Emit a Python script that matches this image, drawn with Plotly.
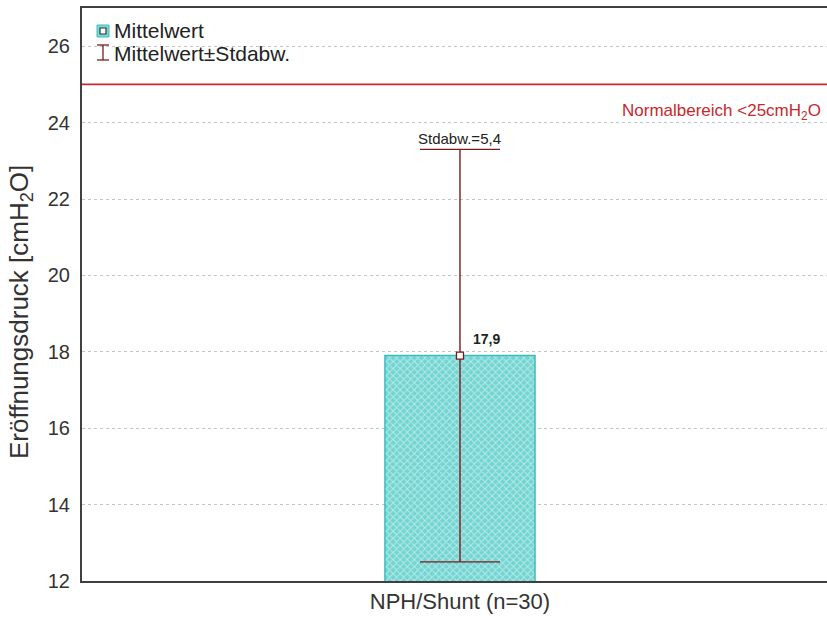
import plotly.graph_objects as go

# Data
categories = ["NPH/Shunt (n=30)"]
means = [17.9]
std_devs = [5.4]
normal_limit = 25
y_ticks = [12, 14, 16, 18, 20, 22, 24, 26]

W, H = 827, 619
ML, MR, MT, MB = 82, 0, 8, 38
PW, PH = W - ML - MR, H - MT - MB

def px_x(p):
    return (p - ML) / PW

def px_y(p):
    return (H - MB - p) / PH

RED = "#c8282d"
DARKRED = "#7a1c1c"
CYAN_LINE = "#3cbcbc"
FONT = "Liberation Sans, Arial, sans-serif"

fig = go.Figure()

fig.add_trace(go.Bar(
    x=categories, y=means, width=0.397,
    base=0,
    marker=dict(
        color="#8fe0dc",
        line=dict(color=CYAN_LINE, width=1.5),
        pattern=dict(shape="x", fgcolor="#ffffff", bgcolor="#72d5d2",
                     size=5, solidity=0.35),
    ),
    showlegend=False,
))

fig.add_trace(go.Scatter(
    x=categories, y=means, mode="markers",
    marker=dict(symbol="square", size=7, color="white",
                line=dict(color=DARKRED, width=1.3)),
    error_y=dict(type="data", array=std_devs, visible=True,
                 color=DARKRED, thickness=1.4, width=40),
    showlegend=False,
))

# mean value label and SD label
fig.add_annotation(x=categories[0], y=means[0],
                   text="<b>%s</b>" % f"{means[0]:.1f}".replace(".", ","),
                   showarrow=False, xshift=27, yshift=17,
                   font=dict(size=14, color="#222", family=FONT))
fig.add_annotation(x=categories[0], y=means[0] + std_devs[0],
                   text="Stdabw.=" + f"{std_devs[0]:.1f}".replace(".", ","),
                   showarrow=False, yshift=11,
                   font=dict(size=15, color="#222", family=FONT))

# normal range line
fig.add_shape(type="line", xref="paper", yref="y", x0=0, x1=1,
              y0=normal_limit, y1=normal_limit,
              line=dict(color=RED, width=1.6))
fig.add_annotation(xref="paper", yref="y", x=px_x(823), y=normal_limit,
                   xanchor="right", yanchor="top", yshift=-15,
                   text="Normalbereich &lt;25cmH<sub>2</sub>O", showarrow=False,
                   font=dict(size=17, color=RED, family=FONT))

# legend
fig.add_shape(type="rect", xref="paper", yref="paper",
              x0=px_x(97), x1=px_x(109), y0=px_y(37), y1=px_y(25),
              fillcolor="#7fd8d6", line=dict(color=CYAN_LINE, width=1))
fig.add_shape(type="rect", xref="paper", yref="paper",
              x0=px_x(100), x1=px_x(106), y0=px_y(34), y1=px_y(28),
              fillcolor="white", line=dict(color="#333", width=1.2))
fig.add_shape(type="line", xref="paper", yref="paper",
              x0=px_x(103), x1=px_x(103), y0=px_y(60), y1=px_y(45),
              line=dict(color=DARKRED, width=1.3))
fig.add_shape(type="line", xref="paper", yref="paper",
              x0=px_x(97), x1=px_x(109), y0=px_y(45), y1=px_y(45),
              line=dict(color=DARKRED, width=1.3))
fig.add_shape(type="line", xref="paper", yref="paper",
              x0=px_x(97), x1=px_x(109), y0=px_y(60), y1=px_y(60),
              line=dict(color=DARKRED, width=1.3))
fig.add_annotation(xref="paper", yref="paper", x=px_x(112), y=px_y(31),
                   xanchor="left", yanchor="middle", text="Mittelwert",
                   showarrow=False, font=dict(size=21, color="#222", family=FONT))
fig.add_annotation(xref="paper", yref="paper", x=px_x(112), y=px_y(53),
                   xanchor="left", yanchor="middle", text="Mittelwert±Stdabw.",
                   showarrow=False, font=dict(size=21, color="#222", family=FONT))

# y-axis title
fig.add_annotation(xref="paper", yref="paper", x=px_x(20), y=px_y(312),
                   xanchor="center", yanchor="middle", textangle=-90,
                   text="Eröffnungsdruck [cmH<sub>2</sub>O]", showarrow=False,
                   font=dict(size=26, color="#333", family=FONT))

fig.update_layout(
    width=W, height=H,
    margin=dict(l=ML, r=MR, t=MT, b=MB),
    paper_bgcolor="white", plot_bgcolor="white",
    font=dict(family=FONT, color="#333"),
    xaxis=dict(type="category", range=[-1, 0.971], showgrid=False,
               showline=True, linecolor="#404040", linewidth=2, mirror=True,
               ticks="", tickfont=dict(size=22, color="#333"),
               zeroline=False),
    yaxis=dict(range=[12, 27], tickvals=y_ticks, showgrid=True,
               gridcolor="#c4c4c4", griddash="dot", gridwidth=1,
               showline=True, linecolor="#404040", linewidth=2,
               ticks="", ticklabelstandoff=6,
               tickfont=dict(size=20, color="#333"), zeroline=False),
)

fig.write_html("out.html")
